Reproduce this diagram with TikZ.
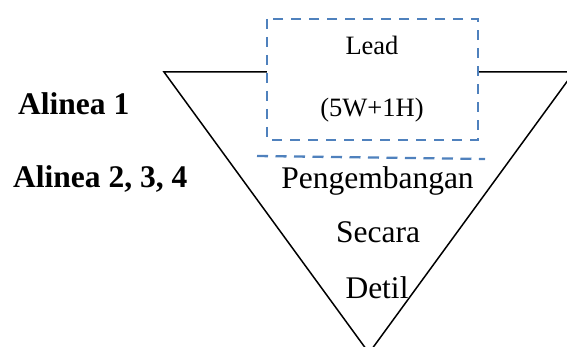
\documentclass[tikz,border=0pt]{standalone}
\usepackage{fontspec}
\setmainfont{Liberation Serif}
\definecolor{dashblue}{HTML}{4F81BD}
\tikzset{
  tri/.style={draw=black, line width=1.5pt, line join=miter},
  dashbox/.style={draw=dashblue, line width=2.3pt, dash pattern=on 10pt off 8pt, fill=white},
  dashline/.style={draw=dashblue, line width=2.3pt, dash pattern=on 11pt off 7.5pt},
  bigtxt/.style={anchor=base, inner sep=0pt, font=\fontsize{31.5}{36}\selectfont},
  smalltxt/.style={anchor=base, inner sep=0pt, font=\fontsize{26.5}{30}\selectfont},
  labeltxt/.style={anchor=base west, inner sep=0pt, font=\fontsize{31.5}{36}\selectfont\bfseries}
}
\begin{document}
\begin{tikzpicture}[x=1pt, y=-1pt]
\useasboundingbox (0,0) rectangle (567,347);
\begin{scope}
\clip (0,0) rectangle (567,347);
\coordinate (tl) at (164,72);
\coordinate (tr) at (574,72);
\coordinate (ap) at (369,353);
\draw[tri] (tl) -- (tr) -- (ap) -- cycle;
\end{scope}
\draw[dashbox] (267,19) rectangle (478,140);
\coordinate (dl) at (257,156);
\coordinate (dr) at (485,159);
\draw[dashline] (dl) -- (dr);
\node[smalltxt] (lead) at (372,55) {Lead};
\node[smalltxt] (w) at (372,117) {(5W+1H)};
\node[bigtxt] (p) at (377.5,189) {Pengembangan};
\node[bigtxt] (s) at (378,243) {Secara};
\node[bigtxt] (d) at (377,298) {Detil};
\node[labeltxt] (a1) at (18,115) {Alinea 1};
\node[labeltxt] (a2) at (13,188) {Alinea 2, 3, 4};
\end{tikzpicture}
\end{document}
